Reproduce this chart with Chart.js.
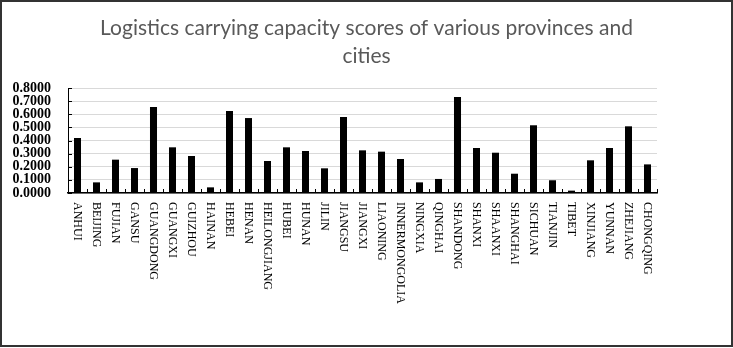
<!DOCTYPE html>
<html>
<head>
<meta charset="utf-8">
<script src="https://cdn.jsdelivr.net/npm/chart.js@4"></script>
<style>
  html, body { margin: 0; padding: 0; background: #fff; }
  #wrap { position: relative; width: 733px; height: 348px; }
  #frame { position: absolute; left: 0; top: 0; width: 729px; height: 343px; border: 2px solid #333; pointer-events: none; }
  canvas { display: block; }
</style>
</head>
<body>
<div id="wrap">
  <canvas id="chart" width="733" height="348"></canvas>
  <div id="frame"></div>
</div>
<script>
// Datos
const provinces = ['ANHUI', 'BEIJING', 'FUJIAN', 'GANSU', 'GUANGDONG', 'GUANGXI', 'GUIZHOU', 'HAINAN',
  'HEBEI', 'HENAN', 'HEILONGJIANG', 'HUBEI', 'HUNAN', 'JILIN', 'JIANGSU', 'JIANGXI', 'LIAONING',
  'INNERMONGOLIA', 'NINGXIA', 'QINGHAI', 'SHANDONG', 'SHANXI', 'SHAANXI', 'SHANGHAI', 'SICHUAN',
  'TIANJIN', 'TIBET', 'XINJIANG', 'YUNNAN', 'ZHEJIANG', 'CHONGQING'];
const scores = [0.419, 0.081, 0.254, 0.190, 0.655, 0.348, 0.282, 0.043,
  0.625, 0.571, 0.244, 0.348, 0.320, 0.188, 0.579, 0.325, 0.315,
  0.259, 0.081, 0.107, 0.731, 0.343, 0.307, 0.147, 0.516,
  0.097, 0.018, 0.249, 0.343, 0.508, 0.218];
const titleLines = ['Logistics carrying capacity scores of various provinces and', 'cities'];

// x labels rotated clockwise + inner tick marks
const extras = {
  id: 'extras',
  afterDraw(chart) {
    const ctx = chart.ctx, x = chart.scales.x, y = chart.scales.y, a = chart.chartArea;
    ctx.save();
    ctx.strokeStyle = '#000';
    ctx.lineWidth = 1;
    ctx.beginPath();
    for (let i = 0; i <= provinces.length; i++) {
      const px = Math.round(x.getPixelForValue(i - 0.5)) + 0.5;
      ctx.moveTo(px, a.bottom);
      ctx.lineTo(px, a.bottom - 4);
    }
    y.ticks.forEach(t => {
      const py = Math.round(y.getPixelForValue(t.value)) + 0.5;
      ctx.moveTo(a.left, py);
      ctx.lineTo(a.left + 4, py);
    });
    ctx.stroke();
    ctx.fillStyle = '#000';
    ctx.font = '12px "Liberation Serif"';
    ctx.textAlign = 'left';
    ctx.textBaseline = 'middle';
    provinces.forEach((p, i) => {
      ctx.save();
      ctx.translate(x.getPixelForValue(i), a.bottom + 9);
      ctx.rotate(Math.PI / 2);
      ctx.fillText(p, 0, 0);
      ctx.restore();
    });
    ctx.restore();
  }
};

new Chart(document.getElementById('chart'), {
  type: 'bar',
  data: {
    labels: provinces,
    datasets: [{ label: 'Score', data: scores, backgroundColor: '#000', barPercentage: 0.37, categoryPercentage: 1 }]
  },
  options: {
    responsive: false,
    animation: false,
    layout: { padding: 0 },
    plugins: {
      legend: { display: false },
      tooltip: { enabled: false },
      title: {
        display: true,
        text: titleLines,
        color: '#595959',
        font: { family: 'Lato', size: 21, weight: 'normal', lineHeight: 1.3 },
        padding: { top: 15, bottom: 18.4 }
      }
    },
    scales: {
      x: {
        grid: { display: true, drawOnChartArea: false, drawTicks: false },
        border: { color: '#000', width: 1.5 },
        ticks: { display: false },
        afterFit(s) { s.height = 155; }
      },
      y: {
        min: 0,
        max: 0.8,
        ticks: {
          stepSize: 0.1,
          autoSkip: false,
          padding: 17,
          color: '#000',
          font: { family: 'Liberation Serif', size: 14, weight: 'bold', lineHeight: 1 },
          callback: v => v.toFixed(4)
        },
        grid: { color: '#d9d9d9', drawTicks: false },
        border: { color: '#000', width: 1 },
        afterFit(s) { s.width = 68; }
      },
      yr: {
        type: 'linear',
        position: 'right',
        grid: { display: false },
        border: { display: false },
        ticks: { display: false },
        afterFit(s) { s.width = 76; }
      }
    }
  },
  plugins: [extras]
});
</script>
</body>
</html>
